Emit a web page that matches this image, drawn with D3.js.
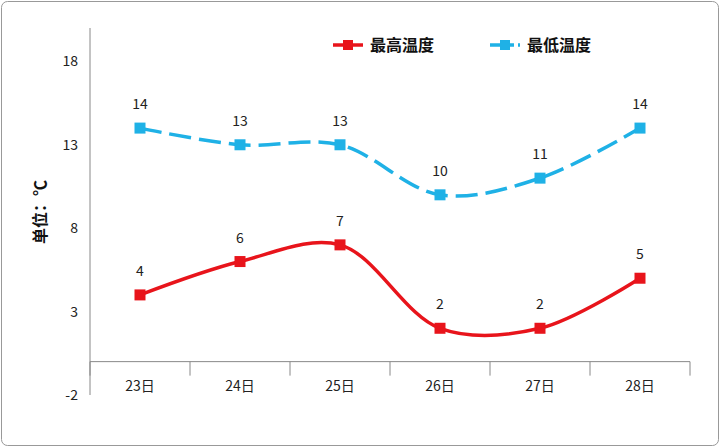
<!DOCTYPE html><html><head><meta charset="utf-8"><script src="https://cdn.jsdelivr.net/npm/d3@7"></script>
<style>body{margin:0;background:#fff}</style></head><body><svg id="c" width="721" height="448"></svg>
<script>
const categories=["23日","24日","25日","26日","27日","28日"];
const seriesNames=["最高温度","最低温度"];
const highValues=[4,6,7,2,2,5];
const lowValues=[14,13,13,10,11,14];
const yTicks=[-2,3,8,13,18];
const svg=d3.select("#c");
const font="'Noto Sans CJK SC','DejaVu Sans',sans-serif";
svg.append("rect").attr("x",1.5).attr("y",1.5).attr("width",717).attr("height",444).attr("rx",6).attr("fill","#fff").attr("stroke","#999");
const x=d3.scaleBand().domain(categories).range([90,690]);
const y=d3.scaleLinear().domain([-2,20]).range([395,28]);
// y axis
svg.append("line").attr("x1",90).attr("x2",90).attr("y1",28).attr("y2",395).attr("stroke","#888");
yTicks.forEach(t=>{svg.append("text").attr("x",78).attr("y",y(t)+5).attr("text-anchor","end").attr("font-family",font).attr("font-size",14).attr("fill","#222").text(t);});
// x axis at 0
svg.append("line").attr("x1",90).attr("x2",690).attr("y1",y(0)).attr("y2",y(0)).attr("stroke","#888");
categories.forEach((c,i)=>{
  svg.append("line").attr("x1",x(c)).attr("x2",x(c)).attr("y1",y(0)).attr("y2",y(0)+14).attr("stroke","#888");
  svg.append("text").attr("x",x(c)+x.bandwidth()/2).attr("y",y(0)+29).attr("text-anchor","middle").attr("font-family",font).attr("font-size",14).attr("fill","#222").text(c);
});
svg.append("line").attr("x1",690).attr("x2",690).attr("y1",y(0)).attr("y2",y(0)+14).attr("stroke","#888");
svg.append("text").attr("transform","translate(46,212) rotate(-90)").attr("text-anchor","middle").attr("font-family",font).attr("font-size",16).attr("font-weight","bold").attr("fill","#111").text("单位：℃");
const cx=c=>x(c)+x.bandwidth()/2;
const line=d3.line().x((d,i)=>cx(categories[i])).y(d=>y(d)).curve(d3.curveCatmullRom.alpha(0.5));
function series(vals,color,dash){
  svg.append("path").attr("d",line(vals)).attr("fill","none").attr("stroke",color).attr("stroke-width",3.5).attr("stroke-dasharray",dash);
  vals.forEach((v,i)=>{
    svg.append("rect").attr("x",cx(categories[i])-5.5).attr("y",y(v)-5.5).attr("width",11).attr("height",11).attr("fill",color);
    svg.append("text").attr("x",cx(categories[i])).attr("y",y(v)-19).attr("text-anchor","middle").attr("font-family",font).attr("font-size",14).attr("fill","#222").text(v);
  });
}
series(highValues,"#e8141b",null);
series(lowValues,"#1fb1e6","22,8");
// legend
[["#e8141b",333,null],["#1fb1e6",490,"10,4"]].forEach((l,i)=>{
  svg.append("line").attr("x1",l[1]).attr("x2",l[1]+30).attr("y1",45).attr("y2",45).attr("stroke",l[0]).attr("stroke-width",3.5).attr("stroke-dasharray",l[2]);
  svg.append("rect").attr("x",l[1]+10).attr("y",40).attr("width",10).attr("height",10).attr("fill",l[0]);
  svg.append("text").attr("x",l[1]+37).attr("y",51).attr("font-family",font).attr("font-size",16).attr("font-weight","bold").attr("fill","#111").text(seriesNames[i]);
});
</script></body></html>
